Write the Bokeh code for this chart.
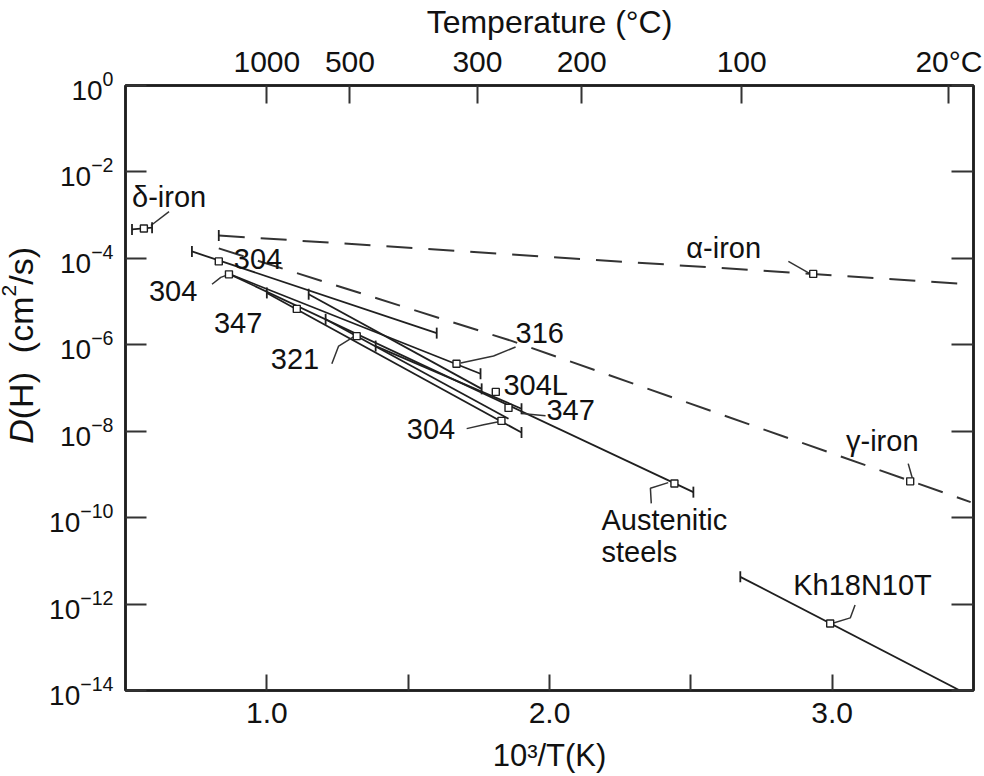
import numpy as np
from bokeh.plotting import figure
from bokeh.models import FixedTicker, LinearAxis, LogAxis, LogTickFormatter, Div
from bokeh.layouts import row
from bokeh.core.properties import value
from bokeh.embed import file_html
from bokeh.resources import INLINE

FONT = "Liberation Sans"
INK = "#1f1f1f"

# ---------------- data (x = 10^3/T in 1/K, logD = log10 D(H) in cm^2/s) ----------------
alpha_x = [0.83, 3.49]
alpha_logD = [-3.47, -4.60]
gamma_x = [0.83, 1.866, 3.49]
gamma_logD = [-3.77, -5.91, -9.64]

delta_x = [0.523, 0.594]
delta_logD = [-3.33, -3.29]
ss304a_x = [0.735, 1.601]
ss304a_logD = [-3.84, -5.73]
ss316_x = [0.866, 1.756]
ss316_logD = [-4.36, -6.67]
aust_x = [0.866, 2.509]
aust_logD = [-4.36, -9.41]
ss304L_x = [1.148, 1.760]
ss304L_logD = [-4.83, -7.02]
ss347_x = [1.0, 1.901]
ss347_logD = [-4.80, -8.03]
ss321_x = [1.208, 1.855]
ss321_logD = [-5.41, -7.71]
ss304b_x = [1.385, 1.901]
ss304b_logD = [-6.03, -7.48]
kh_x = [2.675, 3.452]
kh_logD = [-11.37, -14.0]

# end bars of the measured ranges
bar_x = [0.830, 0.523, 0.594, 0.735, 1.601, 1.756, 2.509, 1.148, 1.760, 1.0, 1.901, 1.208, 1.385, 1.901, 2.675]
bar_logD = [-3.47, -3.33, -3.29, -3.84, -5.73, -6.67, -9.41, -4.83, -7.02, -4.80, -8.03, -5.41, -6.03, -7.48, -11.37]

# small open markers
mark_x = [0.565, 0.830, 0.866, 1.106, 1.318, 1.671, 1.810, 1.855, 1.830, 2.442, 2.993, 2.933, 3.276]
mark_logD = [-3.31, -4.07, -4.37, -5.17, -5.80, -6.44, -7.09, -7.46, -7.76, -9.21, -12.45, -4.36, -9.16]

# labels
label_text = ["δ-iron", "304", "304", "347", "321", "316", "304L", "347", "304",
              "Austenitic", "steels", "Kh18N10T", "α-iron", "γ-iron"]
label_x = [0.523, 0.883, 0.583, 0.813, 1.014, 1.880, 1.837, 1.989, 1.495,
           2.184, 2.184, 2.862, 2.484, 3.049]
label_logD = [-2.59, -4.02, -4.76, -5.50, -6.33, -5.73, -6.93, -7.52, -7.94,
              -10.06, -10.80, -11.56, -3.75, -8.22]

# leader lines from labels to markers
leaders_x = [[0.590, 0.654], [0.806, 0.837, 0.866], [1.230, 1.254, 1.318],
             [1.686, 1.802, 1.880], [1.901, 1.986], [1.707, 1.767, 1.820],
             [2.360, 2.357, 2.420], [2.993, 3.064, 3.081], [2.845, 2.926], [3.269, 3.286]]
leaders_logD = [[-3.24, -2.92], [-4.60, -4.44, -4.37], [-6.44, -6.03, -5.77],
                [-6.42, -6.26, -6.05], [-7.59, -7.64], [-7.94, -7.85, -7.78],
                [-9.67, -9.32, -9.19], [-12.46, -12.32, -12.02], [-4.07, -4.37], [-8.75, -9.14]]

# axes
bottom_ticks = [1.0, 1.5, 2.0, 2.5, 3.0]
bottom_labels = ["1.0", "", "2.0", "", "3.0"]
temp_tick_x = [1.0, 1.294, 1.745, 2.114, 2.680, 3.413]
temp_labels = ["1000", "500", "300", "200", "100", "20°C"]
y_exponents = [0, -2, -4, -6, -8, -10, -12, -14]


def D(vals):
    return [10.0 ** v for v in vals]


LABEL_W = 46
p = figure(width=984 - LABEL_W, height=776, x_range=(0.5, 3.5), y_range=(1e-14, 1.0),
           y_axis_type="log", output_backend="svg", toolbar_location=None,
           min_border_left=125 - LABEL_W, min_border_right=11, min_border_top=83,
           min_border_bottom=86, margin=0)
p.xgrid.visible = False
p.ygrid.visible = False
p.background_fill_color = "white"
p.border_fill_color = "white"
p.outline_line_color = INK
p.outline_line_width = 2.5

yt = FixedTicker(ticks=[10.0 ** e for e in y_exponents])

# left axis
ya = p.yaxis[0]
ya.ticker = yt
ya.formatter = LogTickFormatter()
ya.major_tick_in = 21
ya.major_tick_out = 0
ya.minor_tick_line_color = None
ya.major_label_standoff = 12
ya.major_label_text_font = FONT
ya.major_label_text_font_size = "28px"
ya.major_label_text_color = "#111111"

# bottom axis
xa = p.xaxis[0]
xa.ticker = FixedTicker(ticks=bottom_ticks)
xa.major_label_overrides = dict(zip(bottom_ticks, bottom_labels))
xa.major_tick_in = 16
xa.major_tick_out = 0
xa.minor_tick_line_color = None
xa.major_label_standoff = 12
xa.major_label_text_font = FONT
xa.major_label_text_font_size = "30px"
xa.major_label_text_color = "#111111"
xa.axis_label = "10³/T(K)"
xa.axis_label_text_font = FONT
xa.axis_label_text_font_size = "31px"
xa.axis_label_text_font_style = "normal"
xa.axis_label_text_color = "#111111"
xa.axis_label_standoff = 12

# top axis (temperature)
ta = LinearAxis(ticker=FixedTicker(ticks=temp_tick_x),
                major_label_overrides=dict(zip(temp_tick_x, temp_labels)),
                axis_label="Temperature (°C)")
ta.major_tick_in = 18
ta.major_tick_out = 0
ta.minor_tick_line_color = None
ta.major_label_standoff = 8
ta.major_label_text_font = FONT
ta.major_label_text_font_size = "30px"
ta.major_label_text_color = "#111111"
ta.axis_label_text_font = FONT
ta.axis_label_text_font_size = "32px"
ta.axis_label_text_font_style = "normal"
ta.axis_label_text_color = "#111111"
ta.axis_label_standoff = 2
p.add_layout(ta, "above")

# right axis (ticks only)
ra = LogAxis(ticker=FixedTicker(ticks=[10.0 ** e for e in y_exponents]))
ra.major_tick_in = 22
ra.major_tick_out = 0
ra.minor_tick_line_color = None
ra.major_label_text_color = None
ra.major_label_text_font_size = "2px"
ra.major_label_standoff = 0
p.add_layout(ra, "right")

for ax in [ya, xa, ta, ra]:
    ax.axis_line_color = INK
    ax.axis_line_width = 2.5
    ax.major_tick_line_color = "#333333"
    ax.major_tick_line_width = 2

# dashed iron lines
p.line(alpha_x, D(alpha_logD), line_color="#333333", line_width=2, line_dash="26 16")
p.line(gamma_x, D(gamma_logD), line_color="#333333", line_width=2, line_dash="26 15")

# solid steel lines
for xs, ls in [(delta_x, delta_logD), (ss304a_x, ss304a_logD), (ss316_x, ss316_logD),
               (aust_x, aust_logD), (ss304L_x, ss304L_logD), (ss347_x, ss347_logD),
               (ss321_x, ss321_logD), (ss304b_x, ss304b_logD), (kh_x, kh_logD)]:
    p.line(xs, D(ls), line_color=INK, line_width=1.8)

# leaders
p.multi_line(leaders_x, [D(l) for l in leaders_logD], line_color="#333333", line_width=1.5)

# bars and markers
p.scatter(bar_x, D(bar_logD), marker="dash", angle=np.pi / 2, size=11,
          line_color=INK, line_width=1.8)
p.scatter(mark_x, D(mark_logD), marker="square", size=7, fill_color="white",
          line_color=INK, line_width=1.4)

# labels
p.text(label_x, D(label_logD), text=label_text, text_font=value(FONT),
       text_font_size="29px", text_align="left", text_baseline="middle", text_color="#111111")

# y axis title (italic D), as a narrow strip left of the plot
ylab = Div(
    text=('<div style="position:absolute; left:-8px; top:247px; width:34px; '
          'writing-mode:vertical-rl; transform:rotate(180deg); '
          'font-family:\'Liberation Sans\'; font-size:34px; line-height:34px; '
          'color:#111111; white-space:nowrap;">'
          '<i>D</i>(H)&nbsp;&nbsp;(cm<sup style="font-size:21px;">2</sup>/s)</div>'),
    width=LABEL_W, height=776, margin=0, styles={"overflow": "visible"})

layout = row(ylab, p, spacing=0)
open("out.html", "w").write(file_html(layout, INLINE))
